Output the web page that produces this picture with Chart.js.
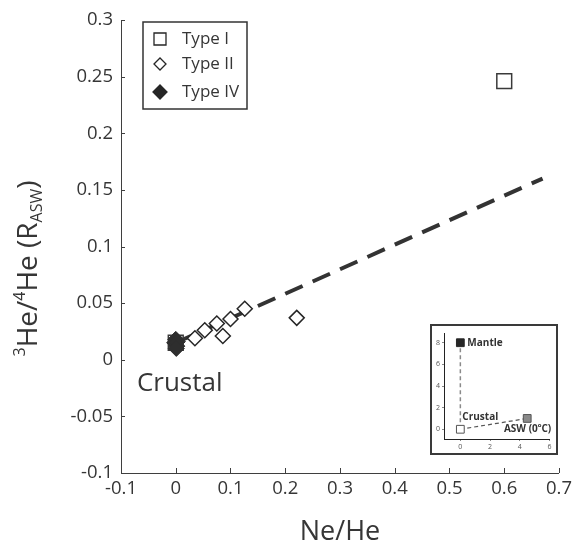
<!DOCTYPE html>
<html lang="en">
<head>
<meta charset="UTF-8">
<title>Ne/He vs 3He/4He</title>
<script src="https://cdn.jsdelivr.net/npm/chart.js"></script>
<style>
  body { margin: 0; background: #fff; }
  #wrap { position: relative; width: 577px; height: 545px; }
  #inset { position: absolute; left: 430px; top: 324px; width: 124px; height: 127px;
           border: 2px solid #3a3a3a; background: #fff; }
</style>
</head>
<body>
<div id="wrap">
  <canvas id="mainChart"></canvas>
  <div id="inset"><canvas id="insetChart"></canvas></div>
</div>
<script>
// values
const typeI_x = [0, 0.6];
const typeI_y = [0.015, 0.246];
const typeII_x = [0.035, 0.053, 0.075, 0.086, 0.1, 0.126, 0.221];
const typeII_y = [0.019, 0.026, 0.032, 0.021, 0.036, 0.045, 0.037];
const typeIV_x = [0, 0.002, -0.002, 0.003, 0.001];
const typeIV_y = [0.018, 0.012, 0.015, 0.016, 0.010];
const trend_x = [0, 0.67];
const trend_y = [0.015, 0.16];

const xTicks = [-0.1, 0, 0.1, 0.2, 0.3, 0.4, 0.5, 0.6, 0.7];
const xTickLabels = ['-0.1', '0', '0.1', '0.2', '0.3', '0.4', '0.5', '0.6', '0.7'];
const yTicks = [-0.1, -0.05, 0, 0.05, 0.1, 0.15, 0.2, 0.25, 0.3];
const yTickLabels = ['-0.1', '-0.05', '0', '0.05', '0.1', '0.15', '0.2', '0.25', '0.3'];

const legendNames = ['Type I', 'Type II', 'Type IV'];

// inset: end-member diagram
const insetNames = ['Crustal', 'Mantle', 'ASW'];
const insetX = [0, 0, 4.5];
const insetY = [0, 8, 1];
const insetXTicks = [0, 2, 4, 6];
const insetYTicks = [0, 2, 4, 6, 8];

const FONT = "'Open Sans', sans-serif";
const TEXT = '#363636';
const AXIS = '#3f3f3f';

function pts(xs, ys) { return xs.map((x, i) => ({ x: x, y: ys[i] })); }

function drawRich(ctx, parts, x, y, align) {
    let total = 0;
    parts.forEach(p => {
        ctx.font = (p.w || 'normal') + ' ' + p.s + 'px ' + FONT;
        p.width = ctx.measureText(p.t).width;
        total += p.width;
    });
    let cx = align === 'center' ? x - total / 2 : (align === 'right' ? x - total : x);
    ctx.textAlign = 'left';
    parts.forEach(p => {
        ctx.font = (p.w || 'normal') + ' ' + p.s + 'px ' + FONT;
        ctx.fillText(p.t, cx, y + (p.dy || 0));
        cx += p.width;
    });
}

function square(ctx, x, y, side) {
    ctx.beginPath();
    ctx.rect(x - side / 2, y - side / 2, side, side);
}
function diamond(ctx, x, y, r) {
    ctx.beginPath();
    ctx.moveTo(x - r, y); ctx.lineTo(x, y - r); ctx.lineTo(x + r, y); ctx.lineTo(x, y + r);
    ctx.closePath();
}

const mainDecor = {
    id: 'mainDecor',
    afterDraw(chart) {
        const ctx = chart.ctx;
        const a = chart.chartArea;
        const xs = chart.scales.x, ys = chart.scales.y;
        ctx.save();

        // inward tick marks
        ctx.strokeStyle = AXIS;
        ctx.lineWidth = 1;
        xs.ticks.forEach(t => {
            const px = Math.round(xs.getPixelForValue(t.value)) + 0.5;
            ctx.beginPath(); ctx.moveTo(px, a.bottom); ctx.lineTo(px, a.bottom - 5); ctx.stroke();
        });
        ys.ticks.forEach(t => {
            const py = Math.round(ys.getPixelForValue(t.value)) + 0.5;
            ctx.beginPath(); ctx.moveTo(a.left, py); ctx.lineTo(a.left + 4, py); ctx.stroke();
        });

        ctx.fillStyle = TEXT;
        ctx.textBaseline = 'alphabetic';

        // x title
        drawRich(ctx, [{ t: 'Ne/He', s: 27 }], (a.left + a.right) / 2, 540, 'center');

        // y title (rotated)
        ctx.save();
        ctx.translate(37, (a.top + a.bottom) / 2 + 22);
        ctx.rotate(-Math.PI / 2);
        drawRich(ctx, [
            { t: '3', s: 16, dy: -12 },
            { t: 'He/', s: 28 },
            { t: '4', s: 16, dy: -12 },
            { t: 'He (R', s: 28 },
            { t: 'ASW', s: 16, dy: 5 },
            { t: ')', s: 28 }
        ], 0, 0, 'center');
        ctx.restore();

        // "Crustal" annotation
        ctx.textBaseline = 'middle';
        drawRich(ctx, [{ t: 'Crustal', s: 26 }], xs.getPixelForValue(-0.071), ys.getPixelForValue(-0.021), 'left');

        // legend box
        const lx = a.left + 22, ly = a.top + 2, lw = 104, lh = 87;
        ctx.strokeStyle = '#333';
        ctx.lineWidth = 1.5;
        ctx.strokeRect(lx, ly, lw, lh);
        const rowY = [ly + 17, ly + 42, ly + 70];
        const mx = lx + 17;
        ctx.lineWidth = 1.3;
        ctx.fillStyle = '#fff';
        ctx.strokeStyle = '#262626';
        square(ctx, mx, rowY[0], 12); ctx.fill(); ctx.stroke();
        diamond(ctx, mx, rowY[1], 6); ctx.fill(); ctx.stroke();
        ctx.fillStyle = '#262626';
        diamond(ctx, mx, rowY[2], 7); ctx.fill(); ctx.stroke();
        ctx.fillStyle = TEXT;
        legendNames.forEach((n, i) => drawRich(ctx, [{ t: n, s: 17 }], lx + 39, rowY[i], 'left'));

        ctx.restore();
    }
};

new Chart(document.getElementById('mainChart'), {
    type: 'scatter',
    data: {
        datasets: [
            {
                label: 'Type IV',
                data: pts(typeIV_x, typeIV_y),
                pointStyle: 'rectRot',
                pointRadius: 8,
                backgroundColor: '#2e2e2e',
                borderColor: '#2e2e2e',
                borderWidth: 1
            },
            {
                label: 'Type II',
                data: pts(typeII_x, typeII_y),
                pointStyle: 'rectRot',
                pointRadius: 7.5,
                backgroundColor: '#fff',
                borderColor: '#262626',
                borderWidth: 1.5
            },
            {
                label: 'Type I',
                data: pts(typeI_x, typeI_y),
                pointStyle: 'rect',
                pointRadius: 10.5,
                backgroundColor: '#fff',
                borderColor: '#3a3a3a',
                borderWidth: 1.5
            },
            {
                label: 'trend',
                type: 'line',
                data: pts(trend_x, trend_y),
                showLine: true,
                borderColor: '#333',
                borderWidth: 4,
                borderDash: [19, 11],
                pointRadius: 0,
                fill: false
            }
        ]
    },
    options: {
        responsive: true,
        maintainAspectRatio: false,
        animation: false,
        layout: { padding: { top: 20, right: 18, left: 0, bottom: 0 } },
        plugins: { legend: { display: false }, tooltip: { enabled: false } },
        scales: {
            x: {
                type: 'linear',
                min: -0.1, max: 0.7,
                afterBuildTicks: s => { s.ticks = xTicks.map(v => ({ value: v })); },
                afterFit: s => { s.height = 72; },
                grid: { display: false, drawTicks: false },
                border: { display: true, color: AXIS, width: 1 },
                ticks: {
                    padding: 5,
                    color: TEXT,
                    font: { family: FONT, size: 18.5 },
                    maxRotation: 0,
                    autoSkip: false,
                    callback: (v, i) => xTickLabels[i]
                }
            },
            y: {
                type: 'linear',
                min: -0.1, max: 0.3,
                afterBuildTicks: s => { s.ticks = yTicks.map(v => ({ value: v })); },
                afterFit: s => { s.width = 121; },
                grid: { display: false, drawTicks: false },
                border: { display: true, color: AXIS, width: 1 },
                ticks: {
                    padding: 8,
                    color: TEXT,
                    font: { family: FONT, size: 18.5 },
                    autoSkip: false,
                    callback: (v, i) => yTickLabels[i]
                }
            }
        }
    },
    plugins: [mainDecor]
});

// inset chart
const insetDecor = {
    id: 'insetDecor',
    afterDraw(chart) {
        const ctx = chart.ctx;
        const xs = chart.scales.x, ys = chart.scales.y;
        const px = i => xs.getPixelForValue(insetX[i]);
        const py = i => ys.getPixelForValue(insetY[i]);
        ctx.save();
        ctx.fillStyle = '#333';
        ctx.textBaseline = 'middle';
        drawRich(ctx, [{ t: insetNames[1], s: 10, w: 'bold' }], px(1) + 7, py(1), 'left');
        drawRich(ctx, [{ t: insetNames[0], s: 10, w: 'bold' }], px(0) + 2, py(0) - 12, 'left');
        drawRich(ctx, [
            { t: insetNames[2] + ' (0', s: 10, w: 'bold' },
            { t: 'o', s: 6, w: 'bold', dy: -4 },
            { t: 'C)', s: 10, w: 'bold' }
        ], px(2) + 24, py(2) + 11, 'right');
        ctx.restore();
    }
};

new Chart(document.getElementById('insetChart'), {
    type: 'scatter',
    data: {
        datasets: [
            {
                label: 'end members',
                data: pts(insetX, insetY),
                pointStyle: 'rect',
                pointRadius: 5.5,
                backgroundColor: ['#fff', '#262626', '#8a8a8a'],
                borderColor: ['#555', '#262626', '#555'],
                borderWidth: 1
            },
            {
                label: 'to mantle',
                type: 'line',
                data: pts([insetX[0], insetX[1]], [insetY[0], insetY[1]]),
                showLine: true,
                borderColor: '#8a8a8a',
                borderWidth: 1.5,
                borderDash: [4, 3],
                pointRadius: 0
            },
            {
                label: 'to ASW',
                type: 'line',
                data: pts([insetX[0], insetX[2]], [insetY[0], insetY[2]]),
                showLine: true,
                borderColor: '#555',
                borderWidth: 1.2,
                borderDash: [4, 3],
                pointRadius: 0
            }
        ]
    },
    options: {
        responsive: true,
        maintainAspectRatio: false,
        animation: false,
        layout: { padding: { top: 7, right: 3, left: 0, bottom: 0 } },
        plugins: { legend: { display: false }, tooltip: { enabled: false } },
        scales: {
            x: {
                type: 'linear',
                min: -1.1, max: 6,
                afterBuildTicks: s => { s.ticks = insetXTicks.map(v => ({ value: v })); },
                afterFit: s => { s.height = 14; },
                grid: { drawOnChartArea: false, drawTicks: true, tickLength: 2, color: '#888' },
                border: { display: true, color: '#222', width: 1 },
                ticks: { padding: 2, color: '#555', font: { family: FONT, size: 7 }, maxRotation: 0, autoSkip: false }
            },
            y: {
                type: 'linear',
                min: -0.9, max: 8.9,
                afterBuildTicks: s => { s.ticks = insetYTicks.map(v => ({ value: v })); },
                afterFit: s => { s.width = 12; },
                grid: { drawOnChartArea: false, drawTicks: true, tickLength: 2, color: '#888' },
                border: { display: true, color: '#222', width: 1 },
                ticks: { padding: 2, color: '#555', font: { family: FONT, size: 7 }, autoSkip: false }
            }
        }
    },
    plugins: [insetDecor]
});
</script>
</body>
</html>
